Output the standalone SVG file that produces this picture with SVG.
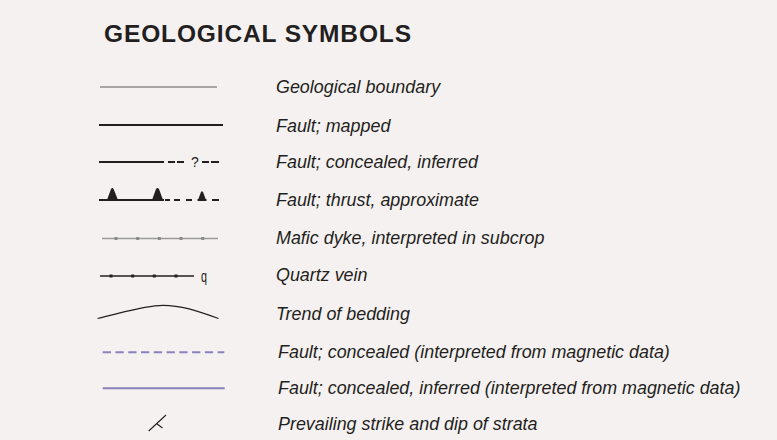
<svg xmlns="http://www.w3.org/2000/svg" width="777" height="440" viewBox="0 0 777 440">
<style>
.bg{fill:#f6f1f1}
.lbl{font-family:"Liberation Sans",Arial,sans-serif;font-style:italic;font-size:17.9px;fill:#231f20}
.title{font-family:"Liberation Sans",Arial,sans-serif;font-weight:bold;font-size:24.5px;fill:#231f20}
.blk{stroke:#231f20;fill:none}
.gry{stroke:#5a5a5a;fill:none}
.pur{stroke:#8a82bd;fill:none;stroke-width:2}
.sym{font-family:"Liberation Sans",Arial,sans-serif;fill:#231f20}
</style>
<rect class="bg" x="0" y="0" width="777" height="440"/>
<text class="title" x="104" y="42" textLength="307" lengthAdjust="spacing">GEOLOGICAL SYMBOLS</text>
<g id="connectors"></g>
<g id="boundary">
<line class="gry" x1="100" y1="87" x2="217" y2="87" stroke-width="1.1"/>
<text class="lbl" x="276" y="93">Geological boundary</text>
</g>
<g id="fault-mapped">
<line class="blk" x1="99" y1="125" x2="223" y2="125" stroke-width="2.2"/>
<text class="lbl" x="276" y="132">Fault; mapped</text>
</g>
<g id="fault-concealed">
<line class="blk" x1="99" y1="162" x2="164" y2="162" stroke-width="1.9"/>
<path class="blk" stroke-width="1.9" d="M168,162H175M177,162H184M202,162H209M211,162H219"/>
<text class="sym" x="195" y="167" font-size="14" text-anchor="middle">?</text>
<text class="lbl" x="276" y="168">Fault; concealed, inferred</text>
</g>
<g id="fault-thrust">
<line class="blk" x1="99" y1="200" x2="164" y2="200" stroke-width="1.9"/>
<path class="blk" stroke-width="1.9" d="M165,200H170M174,200H180M186,200H192M197.5,200H206.5M212,200H219"/>
<path fill="#231f20" d="M107,200L111,189Q112.3,187.2 113.6,189L118,200Z M152,200L156,189Q157.5,187.2 159,189L163,200Z M198,200L201,192Q202,190.5 203,192L206,200Z"/>
<text class="lbl" x="276" y="206">Fault; thrust, approximate</text>
</g>
<g id="mafic-dyke">
<line x1="102" y1="238.5" x2="218" y2="238.5" stroke="#9a9a9a" stroke-width="1.5"/>
<g fill="#8a8a8a">
<rect x="114.5" y="237" width="3" height="3"/>
<rect x="136.2" y="237" width="3" height="3"/>
<rect x="157.8" y="237" width="3" height="3"/>
<rect x="179.5" y="237" width="3" height="3"/>
<rect x="201.2" y="237" width="3" height="3"/>
</g>
<text class="lbl" x="276" y="244">Mafic dyke, interpreted in subcrop</text>
</g>
<g id="quartz-vein">
<line class="blk" x1="100" y1="276" x2="194" y2="276" stroke-width="1.4"/>
<g fill="#231f20">
<rect x="109.5" y="274.5" width="3" height="3"/>
<rect x="131.2" y="274.5" width="3" height="3"/>
<rect x="152.8" y="274.5" width="3" height="3"/>
<rect x="174.5" y="274.5" width="3" height="3"/>
</g>
<text class="sym" x="201" y="281.5" font-size="17" textLength="6" lengthAdjust="spacingAndGlyphs">q</text>
<text class="lbl" x="276" y="281">Quartz vein</text>
</g>
<g id="bedding">
<path class="blk" stroke-width="1.2" d="M97.5,318.5C125,312 145,305.3 163,305.3C181,305.3 196,310.5 218.5,318.5"/>
<text class="lbl" x="276" y="320">Trend of bedding</text>
</g>
<g id="mag-concealed">
<line class="pur" x1="102.7" y1="352.3" x2="224.3" y2="352.3" stroke-dasharray="8.3 4.47"/>
<text class="lbl" x="278" y="358">Fault; concealed (interpreted from magnetic data)</text>
</g>
<g id="mag-inferred">
<line class="pur" x1="102.7" y1="388.3" x2="224.7" y2="388.3"/>
<text class="lbl" x="278" y="394">Fault; concealed, inferred (interpreted from magnetic data)</text>
</g>
<g id="strike-dip">
<path class="blk" stroke-width="1.1" d="M148.7,431L166,415M156.5,423.5L162.5,428"/>
<text class="lbl" x="278" y="429.5">Prevailing strike and dip of strata</text>
</g>
</svg>
